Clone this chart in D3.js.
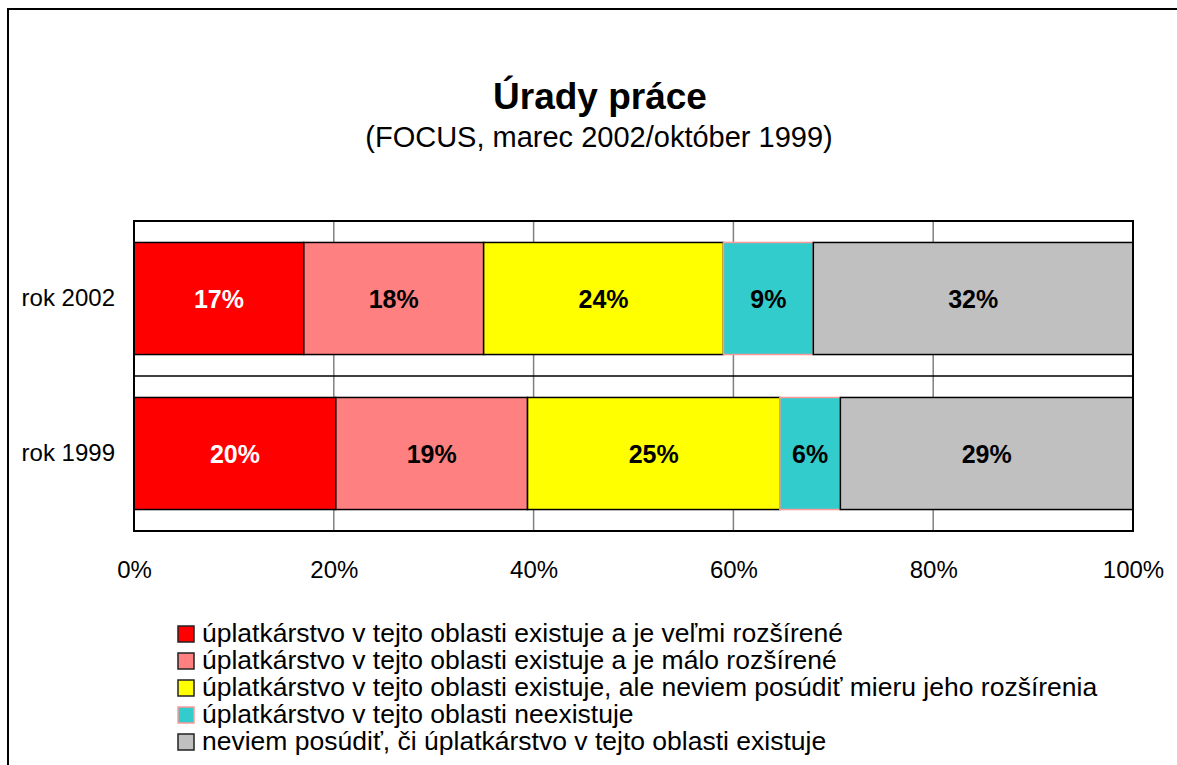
<!DOCTYPE html>
<html lang="sk">
<head>
    <meta charset="UTF-8">
    <title>Úrady práce</title>
    <script src="https://cdn.jsdelivr.net/npm/d3@7"></script>
    <style>
        body{ margin: 0; background: #fff; }
        svg{ display: block; }
        text{ font-family: "Liberation Sans", Arial, sans-serif; }
    </style>
</head>
<body>
<svg id="chart" width="1177" height="765"></svg>

<script>
    // data
    let years = ["rok 2002", "rok 1999"]
    let answers = [
        "úplatkárstvo v tejto oblasti existuje a je veľmi rozšírené",
        "úplatkárstvo v tejto oblasti existuje a je málo rozšírené",
        "úplatkárstvo v tejto oblasti existuje, ale neviem posúdiť mieru jeho rozšírenia",
        "úplatkárstvo v tejto oblasti neexistuje",
        "neviem posúdiť, či úplatkárstvo v tejto oblasti existuje"
    ]
    let values_2002 = [17, 18, 24, 9, 32]
    let values_1999 = [20, 19, 25, 6, 29]
    let xTicks = [0, 0.2, 0.4, 0.6, 0.8, 1]

    let colors = ["#ff0000", "#ff8080", "#ffff00", "#33cccc", "#c0c0c0"]
    let strokes = ["#000", "#000", "#000", "#ff9999", "#000"]
    let labelColors = ["#fff", "#000", "#000", "#000", "#000"]

    let rows = [values_2002, values_1999].map((v, i) => {
        let r = {year: years[i]}
        answers.forEach((a, j) => r[a] = v[j])
        return r
    })

    let svg = d3.select("#chart")

    // frame (left + top visible)
    svg.append("rect")
        .attr("x", 8).attr("y", 9)
        .attr("width", 1300).attr("height", 900)
        .attr("fill", "none").attr("stroke", "#000").attr("stroke-width", 2)

    // titles
    svg.append("text")
        .attr("x", 600).attr("y", 109)
        .attr("text-anchor", "middle")
        .attr("font-size", 37).attr("font-weight", "bold")
        .text("Úrady práce")
    svg.append("text")
        .attr("x", 599).attr("y", 147)
        .attr("text-anchor", "middle")
        .attr("font-size", 29)
        .text("(FOCUS, marec 2002/október 1999)")

    let x = d3.scaleLinear().domain([0, 1]).range([134, 1133])
    let y = d3.scaleBand().domain(years).range([221, 531])
        .paddingInner(0.277).paddingOuter(0.1385)

    let stack = d3.stack().keys(answers).offset(d3.stackOffsetExpand)
    let series = stack(rows)

    // gridlines
    svg.append("g").selectAll("line")
        .data(xTicks.slice(1, -1))
        .join("line")
        .attr("x1", d => x(d)).attr("x2", d => x(d))
        .attr("y1", 221).attr("y2", 531)
        .attr("stroke", "#808080").attr("stroke-width", 1.5)

    // category separator
    svg.append("line")
        .attr("x1", 134).attr("x2", 1133)
        .attr("y1", (y("rok 2002") + y.bandwidth() + y("rok 1999")) / 2)
        .attr("y2", (y("rok 2002") + y.bandwidth() + y("rok 1999")) / 2)
        .attr("stroke", "#000").attr("stroke-width", 1.5)

    // bars
    let groups = svg.append("g").selectAll("g")
        .data(series)
        .join("g")
        .attr("fill", (d, i) => colors[i])
        .attr("stroke", (d, i) => strokes[i])
        .attr("stroke-width", 1.5)

    groups.selectAll("rect")
        .data(d => d)
        .join("rect")
        .attr("x", d => x(d[0]))
        .attr("width", d => x(d[1]) - x(d[0]))
        .attr("y", d => y(d.data.year))
        .attr("height", y.bandwidth())

    // value labels
    let labels = svg.append("g")
    series.forEach((s, i) => {
        labels.selectAll(null)
            .data(s)
            .join("text")
            .attr("x", d => (x(d[0]) + x(d[1])) / 2)
            .attr("y", d => y(d.data.year) + y.bandwidth() / 2)
            .attr("dy", "0.36em")
            .attr("text-anchor", "middle")
            .attr("font-size", 25).attr("font-weight", "bold")
            .attr("fill", labelColors[i])
            .text(d => d.data[s.key] + "%")
    })

    // plot border
    svg.append("rect")
        .attr("x", 134).attr("y", 221)
        .attr("width", 999).attr("height", 310)
        .attr("fill", "none").attr("stroke", "#000").attr("stroke-width", 2)

    // axes
    let xAxis = svg.append("g")
        .attr("transform", "translate(0,531)")
        .call(d3.axisBottom(x).tickValues(xTicks).tickFormat(d3.format(".0%")).tickSize(0).tickPadding(30))
    xAxis.select(".domain").remove()
    xAxis.selectAll("text").attr("font-size", 24).attr("fill", "#000")
        .style("font-family", "'Liberation Sans', Arial, sans-serif")

    let yAxis = svg.append("g")
        .attr("transform", "translate(134,0)")
        .call(d3.axisLeft(y).tickSize(0).tickPadding(19))
    yAxis.select(".domain").remove()
    yAxis.selectAll("text").attr("font-size", 24).attr("fill", "#000")
        .style("font-family", "'Liberation Sans', Arial, sans-serif")

    // legend
    let legend = svg.append("g").selectAll("g")
        .data(answers)
        .join("g")
        .attr("transform", (d, i) => `translate(178,${626 + i * 27})`)
    legend.append("rect")
        .attr("width", 16).attr("height", 16)
        .attr("fill", (d, i) => colors[i])
        .attr("stroke", (d, i) => strokes[i] === "#000" ? "#222" : strokes[i])
        .attr("stroke-width", 1.5)
    legend.append("text")
        .attr("x", 24).attr("y", 16)
        .attr("font-size", 26.5)
        .text(d => d)
</script>
</body>
</html>
